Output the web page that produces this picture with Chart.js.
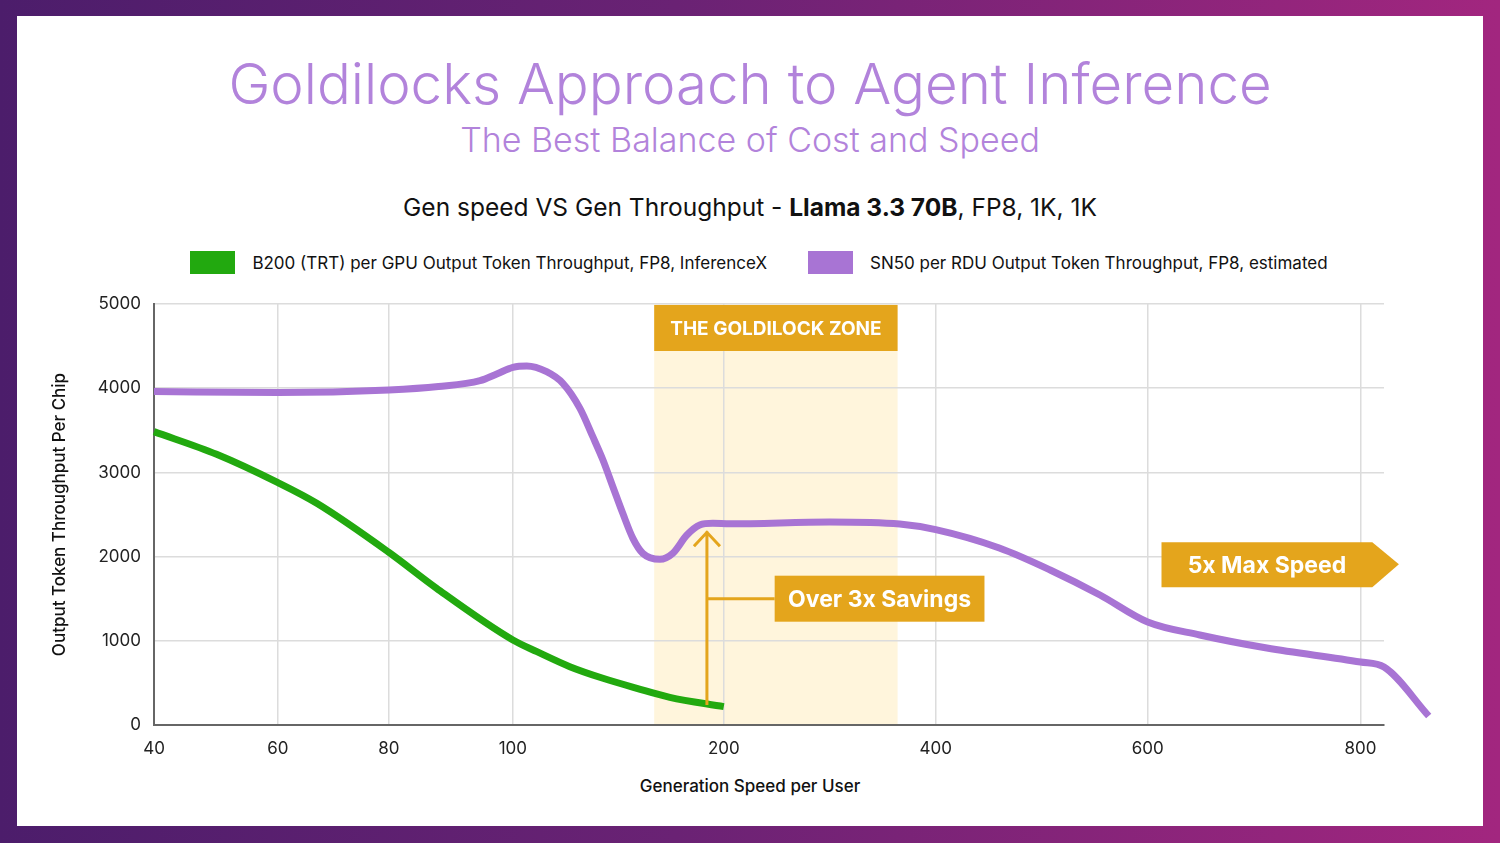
<!DOCTYPE html>
<html>
<head>
<meta charset="utf-8">
<script src="https://cdn.jsdelivr.net/npm/chart.js@4.4.1/dist/chart.umd.min.js"></script>
<style>
  html, body { margin: 0; padding: 0; }
  body {
    width: 1500px; height: 843px; position: relative; overflow: hidden;
    background: linear-gradient(90deg, #4c1d6b 0%, #6a2274 45%, #a2267f 100%);
    font-family: Inter, "Noto Sans", sans-serif;
  }
  #panel { position: absolute; left: 17px; top: 16px; width: 1466px; height: 810px; background: #fff; }
  .txt { position: absolute; left: 0; width: 1500px; text-align: center; white-space: nowrap; }
  #title { top: 49px; font-size: 56.4px; font-weight: 300; color: #b283db; line-height: 70px; }
  #subtitle { top: 118px; font-size: 34px; font-weight: 300; color: #b283db; line-height: 44px; }
  #chartTitle { top: 192px; font-size: 24.5px; font-weight: 400; color: #111; line-height: 30px; }
  #chartTitle b { font-weight: 700; }
  #legend { top: 251px; display: flex; justify-content: center; gap: 41px; font-size: 17px; color: #111; padding-left: 18px; box-sizing: border-box; }
  .item { display: flex; align-items: center; }
  .box { width: 45px; height: 23px; margin-right: 17px; }
  #xTitle { top: 775px; font-size: 17px; font-weight: 500; color: #111; line-height: 22px; }
  #wrap { position: absolute; left: 0; top: 0; width: 1500px; height: 843px; }
</style>
</head>
<body>
<div id="panel"></div>
<div class="txt" id="title">Goldilocks Approach to Agent Inference</div>
<div class="txt" id="subtitle">The Best Balance of Cost and Speed</div>
<div class="txt" id="chartTitle">Gen speed VS Gen Throughput - <b>Llama 3.3 70B</b>, FP8, 1K, 1K</div>
<div class="txt" id="legend"></div>
<div class="txt" id="xTitle">Generation Speed per User</div>
<div id="wrap"><canvas id="chart"></canvas></div>
<script>
// axis ticks
var speedTicks = [40, 60, 80, 100, 200, 400, 600, 800];
var throughputTicks = [0, 1000, 2000, 3000, 4000, 5000];

// B200 curve (speed per user, tokens per chip)
var b200Speed = [40, 50.1, 60, 67, 80, 87.7, 100, 111.4, 127, 142.7, 158.8, 174.4, 200];
var b200Throughput = [3484, 3215, 2878, 2633, 2050, 1623, 1010, 871, 693, 555, 436, 329, 218];

// SN50 curve
var sn50Speed = [40, 60, 80, 88, 94.7, 97.4, 100, 106.6, 116, 123.7, 131.8, 137.9, 142.7, 147.4, 152.1, 156.9, 161.6, 169.7, 175.8, 182.5, 188.6, 194.8, 205.7, 300, 366, 400, 460, 508, 555, 600, 649, 712, 800, 822, 864];
var sn50Throughput = [3960, 3948, 3979, 4020, 4090, 4169, 4248, 4264, 4196, 4058, 3761, 3424, 3147, 2830, 2514, 2217, 2039, 1968, 2039, 2256, 2375, 2395, 2390, 2411, 2387, 2320, 2102, 1841, 1544, 1223, 1069, 914, 748, 689, 107];

var seriesLabels = ['B200 (TRT) per GPU Output Token Throughput, FP8, InferenceX',
                    'SN50 per RDU Output Token Throughput, FP8, estimated'];
var seriesColors = ['#22a90f', '#a874d4'];

// annotation anchors (speed / throughput units)
var zoneSpeed = [167, 364];
var savingsArrow = [192, 237, 2300];   // speed, from, to
var savingsBox = [248, 446, 1500];     // speed from, speed to, throughput centre
var maxSpeedBox = [613, 811, 836, 1910];
var speedMax = 822;
var gold = '#e4a51c';

// the x axis spaces its ticks unevenly, each gap has its own width
var segmentWidths = [124, 111, 124, 211, 212, 212, 213];

function speedToPos(v) {
    var pos = 0;
    var n = speedTicks.length;
    if (v <= speedTicks[0]) return (v - speedTicks[0]) / (speedTicks[1] - speedTicks[0]) * segmentWidths[0];
    for (var i = 0; i < n - 1; i++) {
        var a = speedTicks[i], b = speedTicks[i + 1];
        if (v <= b || i == n - 2) {
            return pos + (v - a) / (b - a) * segmentWidths[i];
        }
        pos += segmentWidths[i];
    }
    return pos;
}

class SegmentScale extends Chart.LinearScale {
    buildTicks() {
        return speedTicks.map(function(v) { return {value: v}; });
    }
    getPixelForValue(value) {
        var p0 = speedToPos(this.min), p1 = speedToPos(this.max);
        return this.getPixelForDecimal((speedToPos(value) - p0) / (p1 - p0));
    }
}
SegmentScale.id = 'segment';
SegmentScale.defaults = Chart.LinearScale.defaults;
Chart.register(SegmentScale);

// legend in html, built from the series
seriesLabels.forEach(function(label, i) {
    var item = document.createElement('div');
    item.className = 'item';
    item.innerHTML = '<div class="box" style="background:' + seriesColors[i] + '"></div><span>' + label + '</span>';
    document.getElementById('legend').appendChild(item);
});

function boxText(ctx, text, x, y, size) {
    ctx.fillStyle = '#fff';
    ctx.font = '700 ' + size + 'px Inter';
    ctx.textAlign = 'center';
    ctx.textBaseline = 'middle';
    ctx.fillText(text, x, y);
}

var goldilocks = {
    id: 'goldilocks',
    beforeDraw: function(chart) {
        var xs = chart.scales.x, area = chart.chartArea, ctx = chart.ctx;
        var x0 = xs.getPixelForValue(zoneSpeed[0]), x1 = xs.getPixelForValue(zoneSpeed[1]);
        ctx.save();
        ctx.fillStyle = '#fff5dc';
        ctx.fillRect(x0, area.top, x1 - x0, area.bottom - area.top);
        ctx.restore();
    },
    afterDatasetsDraw: function(chart) {
        var xs = chart.scales.x, ys = chart.scales.y, area = chart.chartArea, ctx = chart.ctx;
        ctx.save();
        // zone label
        var x0 = xs.getPixelForValue(zoneSpeed[0]), x1 = xs.getPixelForValue(zoneSpeed[1]);
        ctx.fillStyle = gold;
        ctx.fillRect(x0, area.top + 1, x1 - x0, 46);
        boxText(ctx, 'THE GOLDILOCK ZONE', (x0 + x1) / 2, area.top + 25, 19);

        // savings arrow
        var ax = xs.getPixelForValue(savingsArrow[0]);
        var ay0 = ys.getPixelForValue(savingsArrow[1]), ay1 = ys.getPixelForValue(savingsArrow[2]);
        var hy = ys.getPixelForValue(savingsBox[2]);
        var bx0 = xs.getPixelForValue(savingsBox[0]), bx1 = xs.getPixelForValue(savingsBox[1]);
        ctx.strokeStyle = gold;
        ctx.lineWidth = 3;
        ctx.beginPath();
        ctx.moveTo(ax, ay0); ctx.lineTo(ax, ay1);
        ctx.moveTo(ax - 13, ay1 + 15); ctx.lineTo(ax, ay1 + 1); ctx.lineTo(ax + 13, ay1 + 15);
        ctx.moveTo(ax, hy); ctx.lineTo(bx0, hy);
        ctx.stroke();
        ctx.fillStyle = gold;
        ctx.fillRect(bx0, hy - 23, bx1 - bx0, 46);
        boxText(ctx, 'Over 3x Savings', (bx0 + bx1) / 2, hy + 1, 23);

        // max speed tag
        var mx0 = xs.getPixelForValue(maxSpeedBox[0]), mx1 = xs.getPixelForValue(maxSpeedBox[1]);
        var mx2 = xs.getPixelForValue(maxSpeedBox[2]), my = ys.getPixelForValue(maxSpeedBox[3]);
        ctx.fillStyle = gold;
        ctx.beginPath();
        ctx.moveTo(mx0, my - 22); ctx.lineTo(mx1, my - 22); ctx.lineTo(mx2, my);
        ctx.lineTo(mx1, my + 23); ctx.lineTo(mx0, my + 23);
        ctx.closePath();
        ctx.fill();
        boxText(ctx, '5x Max Speed', (mx0 + mx1) / 2, my + 2, 23);
        ctx.restore();
    }
};

var b200Points = b200Speed.map(function(s, i) { return {x: s, y: b200Throughput[i]}; });
var sn50Points = sn50Speed.map(function(s, i) { return {x: s, y: sn50Throughput[i]}; });

new Chart(document.getElementById('chart'), {
    type: 'line',
    data: {
        datasets: [{
            label: seriesLabels[0],
            data: b200Points,
            borderColor: seriesColors[0],
            borderWidth: 7,
            pointRadius: 0,
            cubicInterpolationMode: 'monotone',
            clip: false
        }, {
            label: seriesLabels[1],
            data: sn50Points,
            borderColor: seriesColors[1],
            borderWidth: 7,
            pointRadius: 0,
            cubicInterpolationMode: 'monotone',
            clip: false
        }]
    },
    plugins: [goldilocks],
    options: {
        responsive: true,
        maintainAspectRatio: false,
        animation: false,
        layout: { padding: { left: 46, right: 116, top: 304, bottom: 40 } },
        plugins: { legend: { display: false }, tooltip: { enabled: false } },
        scales: {
            x: {
                type: 'segment',
                min: 40,
                // set after data limits so the last point past the axis end is still drawn
                afterDataLimits: function(scale) { scale.max = speedMax; },
                afterFit: function(scale) { scale.height = 78; },
                grid: { color: '#dcdcdc', lineWidth: 1.5, drawTicks: false },
                border: { color: '#666', width: 2 },
                ticks: {
                    padding: 14,
                    color: '#222',
                    font: { family: 'Inter', size: 17 },
                    maxRotation: 0,
                    autoSkip: false,
                    callback: function(v) { return String(v); }
                }
            },
            y: {
                min: 0,
                max: 5000,
                afterBuildTicks: function(scale) {
                    scale.ticks = throughputTicks.map(function(v) { return {value: v}; });
                },
                afterFit: function(scale) { scale.width = 108; },
                grid: { color: '#dcdcdc', lineWidth: 1.5, drawTicks: false },
                border: { color: '#666', width: 2 },
                ticks: {
                    padding: 13,
                    color: '#222',
                    font: { family: 'Inter', size: 17 },
                    callback: function(v) { return String(v); }
                },
                title: {
                    display: true,
                    text: 'Output Token Throughput Per Chip',
                    color: '#111',
                    font: { family: 'Inter', size: 17, weight: 500 },
                    padding: 4
                }
            }
        }
    }
});
</script>
</body>
</html>
